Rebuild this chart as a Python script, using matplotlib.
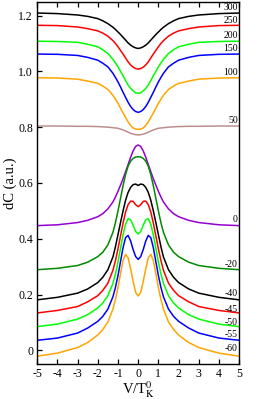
import matplotlib
matplotlib.use("Agg")
import matplotlib.pyplot as plt

plt.rcParams['font.family'] = ['Liberation Serif', 'DejaVu Serif']
plt.rcParams['mathtext.fontset'] = 'stix'
plt.rcParams['axes.unicode_minus'] = False

# bias voltage grid (in units of T_K^0)
V = [-5, -4, -3, -2.5, -2, -1.75, -1.5, -1.25, -1.125, -1, -0.875, -0.75, -0.625, -0.5, -0.375, -0.25, -0.125, 0,
     0.125, 0.25, 0.375, 0.5, 0.625, 0.75, 0.875, 1, 1.125, 1.25, 1.5, 1.75, 2, 2.5, 3, 4, 5]

# dC curves, one per label
c300 = [1.209, 1.207, 1.202, 1.197, 1.189, 1.181, 1.171, 1.158, 1.150, 1.141, 1.132, 1.122, 1.112, 1.102, 1.094, 1.088, 1.084, 1.082,
        1.084, 1.088, 1.094, 1.102, 1.112, 1.122, 1.132, 1.141, 1.150, 1.158, 1.171, 1.181, 1.189, 1.197, 1.202, 1.207, 1.209]
c250 = [1.165, 1.164, 1.159, 1.153, 1.145, 1.137, 1.126, 1.110, 1.100, 1.088, 1.075, 1.062, 1.048, 1.034, 1.023, 1.015, 1.010, 1.008,
        1.010, 1.015, 1.023, 1.034, 1.048, 1.062, 1.075, 1.088, 1.100, 1.110, 1.126, 1.137, 1.145, 1.153, 1.159, 1.164, 1.165]
c200 = [1.108, 1.107, 1.104, 1.097, 1.088, 1.077, 1.064, 1.043, 1.030, 1.016, 1.000, 0.984, 0.967, 0.951, 0.939, 0.930, 0.923, 0.921,
        0.923, 0.930, 0.939, 0.951, 0.967, 0.984, 1.000, 1.016, 1.030, 1.043, 1.064, 1.077, 1.088, 1.097, 1.104, 1.107, 1.108]
c150 = [1.062, 1.061, 1.057, 1.050, 1.040, 1.029, 1.016, 0.993, 0.978, 0.962, 0.944, 0.925, 0.907, 0.889, 0.874, 0.863, 0.856, 0.853,
        0.856, 0.863, 0.874, 0.889, 0.907, 0.925, 0.944, 0.962, 0.978, 0.993, 1.016, 1.029, 1.040, 1.050, 1.057, 1.061, 1.062]
c100 = [0.977, 0.976, 0.972, 0.965, 0.957, 0.947, 0.935, 0.914, 0.900, 0.885, 0.868, 0.851, 0.835, 0.819, 0.806, 0.797, 0.793, 0.792,
        0.793, 0.797, 0.806, 0.819, 0.835, 0.851, 0.868, 0.885, 0.900, 0.914, 0.935, 0.947, 0.957, 0.965, 0.972, 0.976, 0.977]
c50 = [0.804, 0.804, 0.803, 0.803, 0.802, 0.801, 0.800, 0.798, 0.797, 0.796, 0.793, 0.790, 0.786, 0.782, 0.778, 0.775, 0.773, 0.772,
       0.773, 0.775, 0.778, 0.782, 0.786, 0.790, 0.793, 0.796, 0.797, 0.798, 0.800, 0.801, 0.802, 0.803, 0.803, 0.804, 0.804]
c0 = [0.447, 0.450, 0.458, 0.466, 0.479, 0.490, 0.507, 0.532, 0.550, 0.570, 0.592, 0.615, 0.640, 0.666, 0.692, 0.715, 0.731, 0.736,
      0.731, 0.715, 0.692, 0.666, 0.640, 0.615, 0.592, 0.570, 0.550, 0.532, 0.507, 0.490, 0.479, 0.466, 0.458, 0.450, 0.447]
cm20 = [0.289, 0.294, 0.304, 0.316, 0.336, 0.352, 0.378, 0.423, 0.458, 0.500, 0.545, 0.590, 0.630, 0.660, 0.678, 0.688, 0.693, 0.694,
        0.693, 0.688, 0.678, 0.660, 0.630, 0.590, 0.545, 0.500, 0.458, 0.423, 0.378, 0.352, 0.336, 0.316, 0.304, 0.294, 0.289]
cm40 = [0.181, 0.190, 0.205, 0.220, 0.243, 0.262, 0.289, 0.335, 0.372, 0.415, 0.458, 0.500, 0.538, 0.566, 0.584, 0.594, 0.596, 0.591,
        0.596, 0.594, 0.584, 0.566, 0.538, 0.500, 0.458, 0.415, 0.372, 0.335, 0.289, 0.262, 0.243, 0.220, 0.205, 0.190, 0.181]
cm45 = [0.134, 0.143, 0.157, 0.174, 0.196, 0.215, 0.241, 0.287, 0.322, 0.364, 0.410, 0.456, 0.496, 0.522, 0.535, 0.534, 0.522, 0.515,
        0.522, 0.534, 0.535, 0.522, 0.496, 0.456, 0.410, 0.364, 0.322, 0.287, 0.241, 0.215, 0.196, 0.174, 0.157, 0.143, 0.134]
cm50 = [0.085, 0.094, 0.112, 0.128, 0.152, 0.170, 0.196, 0.240, 0.274, 0.317, 0.366, 0.414, 0.452, 0.472, 0.468, 0.448, 0.426, 0.417,
        0.426, 0.448, 0.468, 0.472, 0.452, 0.414, 0.366, 0.317, 0.274, 0.240, 0.196, 0.170, 0.152, 0.128, 0.112, 0.094, 0.085]
cm55 = [0.036, 0.044, 0.062, 0.080, 0.104, 0.122, 0.148, 0.192, 0.226, 0.268, 0.318, 0.368, 0.404, 0.412, 0.392, 0.361, 0.336, 0.326,
        0.336, 0.361, 0.392, 0.412, 0.404, 0.368, 0.318, 0.268, 0.226, 0.192, 0.148, 0.122, 0.104, 0.080, 0.062, 0.044, 0.036]
cm60 = [-0.021, -0.010, 0.010, 0.028, 0.055, 0.075, 0.102, 0.148, 0.183, 0.225, 0.275, 0.322, 0.344, 0.332, 0.293, 0.247, 0.208, 0.195,
        0.208, 0.247, 0.293, 0.332, 0.344, 0.322, 0.275, 0.225, 0.183, 0.148, 0.102, 0.075, 0.055, 0.028, 0.010, -0.010, -0.021]

curves = [c300, c250, c200, c150, c100, c50, c0, cm20, cm40, cm45, cm50, cm55, cm60]
labels = ['300', '250', '200', '150', '100', '50', '0', '-20', '-40', '-45', '-50', '-55', '-60']
colors = ['black', '#ff0000', '#00ff00', '#0000ff', '#ffa500', '#bc8f8f', '#9400d3', '#008b00',
          'black', '#ff0000', '#00ff00', '#0000ff', '#ffa500']
label_y = [1.230, 1.182, 1.130, 1.083, 0.995, 0.825, 0.470, 0.307, 0.203, 0.148, 0.100, 0.056, 0.005]

fig = plt.figure(figsize=(2.66, 3.99), dpi=100)
ax = fig.add_axes([0.140, 0.087, 0.759, 0.909])

for y, lab, col, ly in zip(curves, labels, colors, label_y):
    ax.plot(V, y, color=col, lw=1.1)
    ax.text(4.93, ly, lab, ha='right', va='center', fontsize=7)

ax.set_xlim(-5, 5)
ax.set_ylim(-0.05, 1.25)
ax.set_xticks(range(-5, 6))
ax.set_yticks([0, 0.2, 0.4, 0.6, 0.8, 1.0, 1.2])
ax.set_yticklabels(['0', '0.2', '0.4', '0.6', '0.8', '1.0', '1.2'])
ax.tick_params(direction='in', top=True, right=False, length=3.5, width=0.9, labelsize=8.5, pad=3)
for s in ax.spines.values():
    s.set_linewidth(1.0)

ax.set_xlabel(r'V/T$_\mathrm{K}^0$', fontsize=10.5, labelpad=-1)
ax.set_ylabel('dC (a.u.)', fontsize=10.5, labelpad=1)

fig.savefig('out.png', dpi=100)
